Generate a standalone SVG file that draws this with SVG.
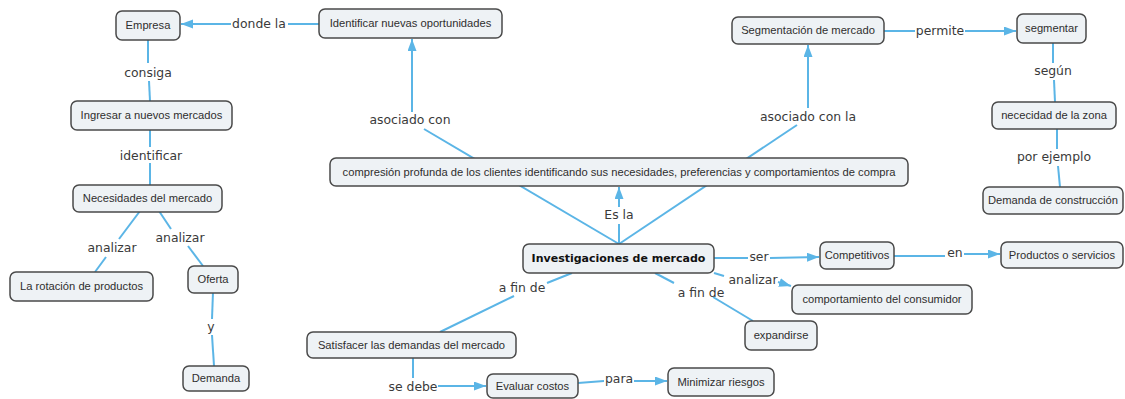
<svg xmlns="http://www.w3.org/2000/svg" width="1125" height="399" viewBox="0 0 1125 399">
  <style>
    .node rect { fill: #eef2f5; stroke: #4a4a4a; stroke-width: 1.5; }
    .node text { font-family: "Liberation Sans", Arial, sans-serif; font-size: 11.2px; fill: #2e2e2e; text-anchor: middle; }
    .node.main text { font-family: "DejaVu Sans", Verdana, sans-serif; font-weight: bold; font-size: 11px; fill: #111; }
    .link { stroke: #5bb5e6; stroke-width: 2; fill: none; }
    .arrow { marker-end: url(#head); }
    .phrase { font-family: "DejaVu Sans", Verdana, sans-serif; font-size: 12.4px; fill: #3a3a3a; text-anchor: middle; }
  </style>
  <defs>
    <marker id="head" markerUnits="userSpaceOnUse" markerWidth="13" markerHeight="10" refX="12" refY="4.5" orient="auto">
      <path d="M0,0 L12,4.5 L0,9 z" fill="#5bb5e6"/>
    </marker>
  </defs>
  <rect width="1125" height="399" fill="#ffffff"/>

  <!-- connectors and linking phrases -->
  <g id="connectors">
    <!-- Identificar -> Empresa -->
    <line class="link" x1="319" y1="24" x2="288" y2="24"/>
    <line class="link arrow" x1="231" y1="24" x2="181" y2="24"/>
    <text class="phrase" x="259" y="28">donde la</text>
    <!-- Empresa -> Ingresar -->
    <line class="link" x1="148" y1="40" x2="148" y2="63"/>
    <line class="link" x1="149" y1="81" x2="150" y2="101"/>
    <text class="phrase" x="148" y="77">consiga</text>
    <!-- Ingresar -> Necesidades -->
    <line class="link" x1="150" y1="130" x2="150" y2="147"/>
    <line class="link" x1="150" y1="163" x2="150" y2="185"/>
    <text class="phrase" x="151" y="160">identificar</text>
    <!-- Necesidades -> rotación -->
    <line class="link" x1="140" y1="211" x2="119" y2="239"/>
    <line class="link" x1="106" y1="257" x2="95" y2="272"/>
    <text class="phrase" x="112" y="252">analizar</text>
    <!-- Necesidades -> Oferta -->
    <line class="link" x1="159" y1="211" x2="171" y2="229"/>
    <line class="link" x1="188" y1="246" x2="203" y2="266"/>
    <text class="phrase" x="180" y="242">analizar</text>
    <!-- Oferta -> Demanda -->
    <line class="link" x1="213" y1="292" x2="212" y2="319"/>
    <line class="link" x1="212" y1="335" x2="214" y2="366"/>
    <text class="phrase" x="211" y="331">y</text>

    <!-- Investigaciones -> Identificar (passes behind the compression node) -->
    <line class="link" x1="619" y1="244" x2="424" y2="129"/>
    <line class="link arrow" x1="412" y1="112" x2="412" y2="39"/>
    <text class="phrase" x="410" y="124">asociado con</text>
    <!-- Investigaciones -> Segmentación -->
    <line class="link" x1="619" y1="244" x2="797" y2="125"/>
    <line class="link arrow" x1="808" y1="108" x2="808" y2="45"/>
    <text class="phrase" x="808" y="121">asociado con la</text>
    <!-- Segmentación -> segmentar -->
    <line class="link" x1="884" y1="31" x2="915" y2="31"/>
    <line class="link arrow" x1="965" y1="31" x2="1016" y2="31"/>
    <text class="phrase" x="940" y="35">permite</text>
    <!-- segmentar -> necesidad -->
    <line class="link" x1="1053" y1="43" x2="1053" y2="63"/>
    <line class="link" x1="1054" y1="80" x2="1055" y2="102"/>
    <text class="phrase" x="1053" y="75">según</text>
    <!-- necesidad -> Demanda de construcción -->
    <line class="link" x1="1057" y1="129" x2="1057" y2="149"/>
    <line class="link" x1="1058" y1="166" x2="1060" y2="187"/>
    <text class="phrase" x="1054" y="161">por ejemplo</text>

    <!-- Investigaciones -> compresión -->
    <line class="link" x1="619" y1="244" x2="619" y2="224"/>
    <line class="link arrow" x1="619" y1="207" x2="619" y2="187"/>
    <text class="phrase" x="619" y="219">Es la</text>
    <!-- Investigaciones -> Satisfacer -->
    <line class="link" x1="572" y1="273" x2="547" y2="283"/>
    <line class="link" x1="514" y1="296" x2="440" y2="332"/>
    <text class="phrase" x="522" y="292">a fin de</text>
    <!-- Investigaciones -> expandirse -->
    <line class="link" x1="655" y1="273" x2="674" y2="283"/>
    <line class="link" x1="713" y1="297" x2="753" y2="321"/>
    <text class="phrase" x="701" y="297">a fin de</text>
    <!-- Investigaciones -> Competitivos -->
    <line class="link" x1="714" y1="258" x2="748" y2="258"/>
    <line class="link arrow" x1="770" y1="258" x2="819" y2="257"/>
    <text class="phrase" x="759" y="261">ser</text>
    <!-- Investigaciones -> comportamiento -->
    <line class="link" x1="714" y1="273" x2="724" y2="276"/>
    <line class="link arrow" x1="778" y1="282" x2="791" y2="286"/>
    <text class="phrase" x="753" y="284">analizar</text>
    <!-- Competitivos -> Productos -->
    <line class="link" x1="894" y1="256" x2="945" y2="256"/>
    <line class="link arrow" x1="964" y1="254" x2="1000" y2="254"/>
    <text class="phrase" x="955" y="257">en</text>
    <!-- Satisfacer -> Evaluar -->
    <line class="link" x1="413" y1="358" x2="413" y2="378"/>
    <line class="link arrow" x1="438" y1="386" x2="486" y2="386"/>
    <text class="phrase" x="413" y="391">se debe</text>
    <!-- Evaluar -> Minimizar -->
    <line class="link" x1="578" y1="383" x2="604" y2="381"/>
    <line class="link arrow" x1="634" y1="381" x2="667" y2="381"/>
    <text class="phrase" x="619" y="383">para</text>
  </g>

  <!-- concepts -->
  <g id="empresa" class="node"><rect x="116" y="11" width="64" height="29" rx="6"/><text x="148" y="29">Empresa</text></g>
  <g id="identificar-oportunidades" class="node"><rect x="319" y="9" width="183" height="29" rx="6"/><text x="410.5" y="27">Identificar nuevas oportunidades</text></g>
  <g id="ingresar" class="node"><rect x="71" y="101" width="161" height="29" rx="6"/><text x="151.5" y="119">Ingresar a nuevos mercados</text></g>
  <g id="necesidades" class="node"><rect x="73" y="185" width="149" height="27" rx="6"/><text x="147.5" y="202">Necesidades del mercado</text></g>
  <g id="rotacion" class="node"><rect x="10" y="272" width="143" height="29" rx="6"/><text x="81.5" y="290">La rotación de productos</text></g>
  <g id="oferta" class="node"><rect x="188" y="266" width="50" height="27" rx="6"/><text x="213" y="283">Oferta</text></g>
  <g id="demanda" class="node"><rect x="183" y="366" width="66" height="25" rx="6"/><text x="216" y="382">Demanda</text></g>
  <g id="compresion" class="node"><rect x="330" y="158" width="578" height="28" rx="6"/><text x="619" y="176">compresión profunda de los clientes identificando sus necesidades, preferencias y comportamientos de compra</text></g>
  <g id="segmentacion" class="node"><rect x="732" y="17" width="152" height="27" rx="6"/><text x="808" y="34">Segmentación de mercado</text></g>
  <g id="segmentar" class="node"><rect x="1017" y="14" width="69" height="29" rx="6"/><text x="1051.5" y="32">segmentar</text></g>
  <g id="necesidad-zona" class="node"><rect x="992" y="102" width="124" height="27" rx="6"/><text x="1054" y="119">nececidad de la zona</text></g>
  <g id="demanda-construccion" class="node"><rect x="983" y="187" width="140" height="27" rx="6"/><text x="1053" y="204">Demanda de construcción</text></g>
  <g id="investigaciones" class="node main"><rect x="523" y="244" width="191" height="29" rx="6"/><text x="618.5" y="262">Investigaciones de mercado</text></g>
  <g id="competitivos" class="node"><rect x="820" y="242" width="74" height="27" rx="6"/><text x="857" y="259">Competitivos</text></g>
  <g id="productos" class="node"><rect x="1001" y="242" width="122" height="26" rx="6"/><text x="1062" y="259">Productos o servicios</text></g>
  <g id="comportamiento" class="node"><rect x="792" y="285" width="180" height="29" rx="6"/><text x="882" y="303">comportamiento del consumidor</text></g>
  <g id="expandirse" class="node"><rect x="745" y="321" width="72" height="29" rx="6"/><text x="781" y="339">expandirse</text></g>
  <g id="satisfacer" class="node"><rect x="307" y="332" width="209" height="26" rx="6"/><text x="411.5" y="349">Satisfacer las demandas del mercado</text></g>
  <g id="evaluar" class="node"><rect x="487" y="374" width="91" height="24" rx="6"/><text x="532.5" y="390">Evaluar costos</text></g>
  <g id="minimizar" class="node"><rect x="668" y="368" width="106" height="28" rx="6"/><text x="721" y="386">Minimizar riesgos</text></g>
</svg>
